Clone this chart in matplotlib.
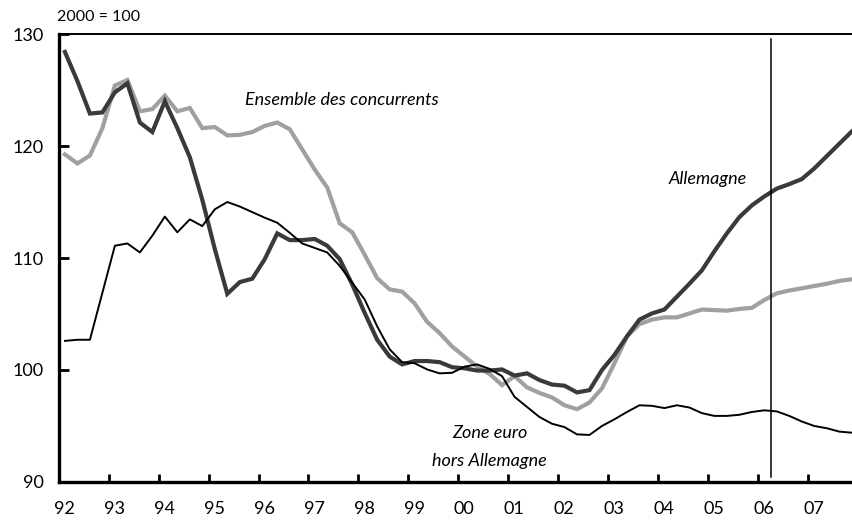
import matplotlib
matplotlib.use("Agg")
import matplotlib.pyplot as plt
import numpy as np

plt.rcParams['font.family'] = ['Lato', 'DejaVu Sans']

# quarterly data, 1992Q1 .. 2007Q4, plotted at mid-quarter
quarters = 1992.125 + 0.25 * np.arange(64)

allemagne = [
    128.4, 125.8, 122.9, 123.0, 124.8, 125.6, 122.1, 121.25,
    124.0, 121.6, 119.0, 115.2, 110.8, 106.8, 107.85, 108.15,
    109.9, 112.2, 111.6, 111.6, 111.7, 111.1, 109.9, 107.65,
    105.1, 102.7, 101.2, 100.5, 100.8, 100.8, 100.7, 100.25,
    100.15, 99.95, 99.95, 100.05, 99.5, 99.7, 99.1, 98.7,
    98.6, 98.0, 98.2, 100.0, 101.35, 103.0, 104.5, 105.05,
    105.4, 106.55, 107.7, 108.9, 110.6, 112.2, 113.65, 114.7,
    115.5, 116.2, 116.6, 117.05, 118.0, 119.1, 120.2, 121.3,
]

concurrents = [
    119.25, 118.45, 119.15, 121.6, 125.4, 125.9, 123.1, 123.3,
    124.5, 123.1, 123.4, 121.6, 121.7, 120.95, 121.0, 121.25,
    121.8, 122.1, 121.5, 119.7, 117.9, 116.3, 113.1, 112.3,
    110.3, 108.2, 107.2, 107.0, 105.95, 104.3, 103.3, 102.1,
    101.2, 100.3, 99.65, 98.65, 99.45, 98.45, 97.95, 97.55,
    96.85, 96.5, 97.1, 98.35, 100.6, 103.0, 104.1, 104.5,
    104.7, 104.7, 105.05, 105.4, 105.35, 105.3, 105.45, 105.55,
    106.25, 106.85, 107.1, 107.3, 107.5, 107.7, 107.95, 108.1,
]

zone_euro = [
    102.6, 102.7, 102.7, 106.9, 111.1, 111.3, 110.5, 112.0,
    113.7, 112.3, 113.45, 112.85, 114.35, 115.0, 114.6, 114.1,
    113.6, 113.15, 112.25, 111.3, 110.9, 110.5, 109.3, 107.8,
    106.3, 103.9, 101.85, 100.7, 100.6, 100.05, 99.7, 99.75,
    100.3, 100.5, 100.1, 99.45, 97.6, 96.7, 95.8, 95.2,
    94.9, 94.25, 94.2, 95.0, 95.6, 96.25, 96.85, 96.8,
    96.6, 96.85, 96.65, 96.15, 95.9, 95.9, 96.0, 96.25,
    96.4, 96.3, 95.9, 95.4, 95.0, 94.8, 94.5, 94.4,
]

years = list(range(1992, 2008))
year_labels = [f"{y % 100:02d}" for y in years]
forecast_start = 2006.25

fig = plt.figure(figsize=(8.53, 5.24), dpi=100)
ax = fig.add_axes([0.0688, 0.0802, 0.9312, 0.8548])

ax.plot(quarters, concurrents, color='#a0a0a0', lw=3.0, zorder=2,
        solid_joinstyle='miter')
ax.plot(quarters, allemagne, color='#3a3a3a', lw=3.0, zorder=3,
        solid_joinstyle='miter')
ax.plot(quarters, zone_euro, color='black', lw=1.4, zorder=4)
ax.axvline(forecast_start, ymin=0.01, ymax=0.99, color='black', lw=1.1, zorder=5)

ax.set_xlim(1992, 2008 - 0.1)
ax.set_ylim(90, 130)

# ticks
ax.set_yticks([90, 100, 110, 120, 130])
ax.tick_params(axis='y', direction='in', length=7, width=2, pad=11,
               labelsize=13)
ax.set_xticks(years)
ax.set_xticklabels([])
ax.tick_params(axis='x', which='major', direction='in', length=6, width=2)
ax.set_xticks([y + 0.12 for y in years], minor=True)
ax.set_xticklabels(year_labels, minor=True)
ax.tick_params(axis='x', which='minor', length=0, pad=14, labelsize=13)

for side in ['left', 'bottom']:
    ax.spines[side].set_linewidth(2.4)
ax.spines['top'].set_linewidth(1.4)
ax.spines['right'].set_visible(False)

fig.text(0.067, 0.968, "2000 = 100", fontsize=11.5, va='center', ha='left')

ax.text(1995.73, 124.1, "Ensemble des concurrents", style='italic',
        fontsize=13, va='center', ha='left')
ax.text(2005.77, 117.1, "Allemagne", style='italic',
        fontsize=13, va='center', ha='right')
ax.text(2000.63, 94.35, "Zone euro", style='italic',
        fontsize=13, va='center', ha='center')
ax.text(2000.63, 91.9, "hors Allemagne", style='italic',
        fontsize=13, va='center', ha='center')

fig.savefig("out.png", dpi=100)
